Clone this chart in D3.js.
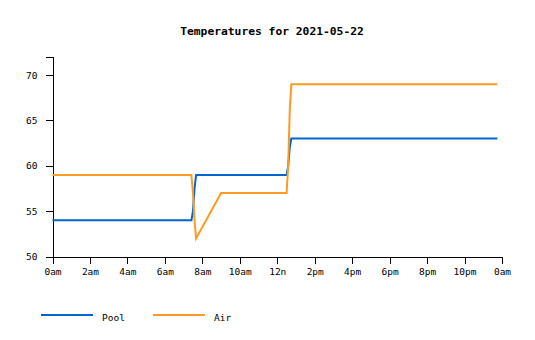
<!DOCTYPE html>
<html>
<head>
<meta charset="utf-8">
<script src="https://cdn.jsdelivr.net/npm/d3@7"></script>
<style>
  html, body { margin: 0; padding: 0; background: #fff; }
  svg { display: block; }
  text { font-family: "DejaVu Sans Mono", "Liberation Mono", monospace; fill: #000; }
</style>
</head>
<body>
<svg id="chart" width="535" height="340"></svg>
<script>
const title = "Temperatures for 2021-05-22";
const day = "2021-05-22";
const times = ["00:00","07:25","07:30","07:35","07:40","09:00","12:30","12:35","12:40","12:45","23:45"];
const pool  = [54, 54, 55, 57.5, 59, 59, 59, 60, 62, 63, 63];
const air   = [59, 59, 57, 54, 52, 57, 57, 60, 66, 69, 69];
const seriesNames = ["Pool", "Air"];
const seriesColors = ["#0066cc", "#ff9922"];
const xTickLabels = ["0am","2am","4am","6am","8am","10am","12n","2pm","4pm","6pm","8pm","10pm","0am"];
const yTicks = [50, 55, 60, 65, 70];
const yDomain = [50, 72];

const parse = d3.timeParse("%Y-%m-%d %H:%M");
const t0 = parse(day + " 00:00");
const t1 = d3.timeDay.offset(t0, 1);

const svg = d3.select("#chart");
const margin = {left: 52.5, right: 33, top: 57, bottom: 83.5};
const W = 535, H = 340;

const x = d3.scaleTime().domain([t0, t1]).range([margin.left, W - margin.right]);
const y = d3.scaleLinear().domain(yDomain).range([H - margin.bottom, margin.top]);

svg.append("text")
  .attr("x", 272).attr("y", 35)
  .attr("text-anchor", "middle")
  .style("font-size", "11.3px").style("font-weight", "bold")
  .text(title);

const xTicks = d3.range(0, 13).map(i => d3.timeHour.offset(t0, i * 2));
const xAxis = d3.axisBottom(x).tickValues(xTicks)
  .tickFormat((d, i) => xTickLabels[i]).tickSizeOuter(0).tickSize(7).tickPadding(5);
const gx = svg.append("g").attr("transform", `translate(0,${H - margin.bottom})`).call(xAxis);
gx.selectAll("text").style("font-size", "9.5px");

const yAxis = d3.axisLeft(y).tickValues(yTicks).tickSizeOuter(0).tickSize(7).tickPadding(8);
const gy = svg.append("g").attr("transform", `translate(${margin.left},0)`).call(yAxis);
gy.selectAll("text").style("font-size", "9.5px");

svg.selectAll(".domain, .tick line").attr("stroke", "#000").attr("shape-rendering", "crispEdges");

const series = [pool, air].map((vals, k) => ({
  name: seriesNames[k], color: seriesColors[k],
  pts: times.map((t, i) => ({t: parse(day + " " + t), v: vals[i]}))
}));

const line = d3.line().x(d => x(d.t)).y(d => y(d.v));
svg.selectAll(".series").data(series).enter().append("path")
  .attr("fill", "none")
  .attr("stroke", d => d.color)
  .attr("stroke-width", 2)
  .attr("d", d => line(d.pts));

const lg = svg.append("g");
series.forEach((s, k) => {
  const ox = 41 + k * 112;
  lg.append("line").attr("x1", ox).attr("x2", ox + 52).attr("y1", 315).attr("y2", 315)
    .attr("stroke", s.color).attr("stroke-width", 2);
  lg.append("text").attr("x", ox + 61).attr("y", 320.5).style("font-size", "9.5px").text(s.name);
});
</script>
</body>
</html>
